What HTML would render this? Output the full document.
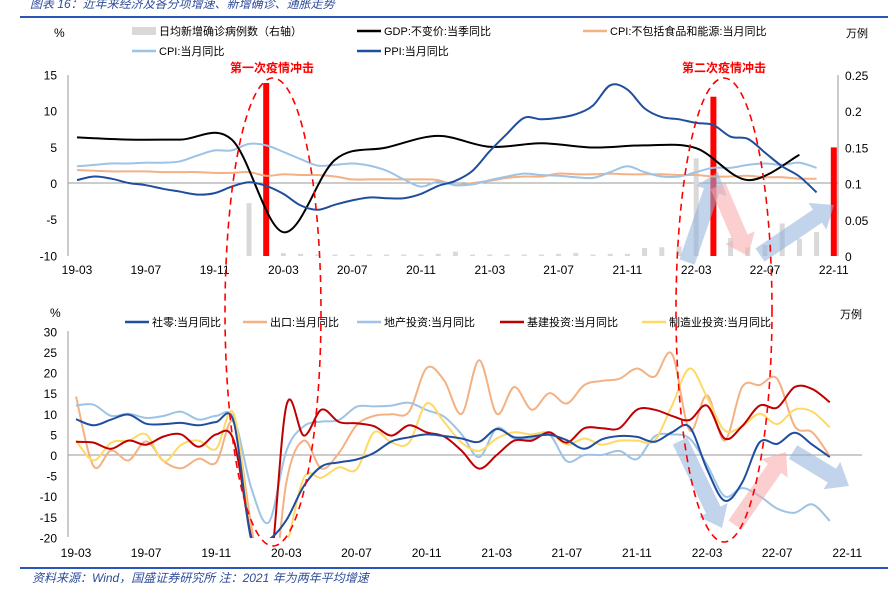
<!DOCTYPE html>
<html><head><meta charset="utf-8"><style>
body{margin:0;background:#fff;}
svg{display:block;font-family:"Liberation Sans","Noto Sans CJK SC",sans-serif;}
</style></head><body>
<svg id="chart" width="890" height="602" viewBox="0 0 890 602">
<defs>
<clipPath id="clipB"><rect x="68" y="329" width="800" height="209"/></clipPath>
</defs>
<text x="30" y="8" font-size="12" font-style="italic" fill="#2e4c9a">图表 16：近年来经济及各分项增速、新增确诊、通胀走势</text>
<line x1="20" y1="17" x2="888" y2="17" stroke="#2a56b8" stroke-width="2"/>
<g id="top"></g>
<g id="bot"></g>
<line x1="20" y1="568" x2="888" y2="568" stroke="#2a56b8" stroke-width="2"/>
<text x="32" y="582" font-size="12" font-style="italic" fill="#2e4c9a">资料来源：Wind，国盛证券研究所 注：2021 年为两年平均增速</text>
</svg>
<script>
// ---------- data ----------
const topTicks = ["19-03","19-07","19-11","20-03","20-07","20-11","21-03","21-07","21-11","22-03","22-07","22-11"];
const leftTicks = [15,10,5,0,-5,-10];
const rightTicks = [0.25,0.2,0.15,0.1,0.05,0];
const gdpMonths = [0,3,6,9,12,15,18,21,24,27,30,33,36,39,42];
const gdp = [6.3,6.0,6.0,6.0,-6.8,3.2,4.9,6.5,5.0,5.5,4.9,5.2,4.8,0.4,3.9];
const ppi = [0.4,0.9,0.6,0,-0.3,-0.8,-1.2,-1.6,-1.4,-0.5,0.1,-0.4,-1.5,-3.1,-3.7,-3.0,-2.4,-2.0,-2.1,-2.1,-1.5,-0.4,0.3,1.7,4.4,6.8,9.0,8.8,9.0,9.5,10.7,13.5,12.9,10.3,9.1,8.8,8.3,8.0,6.4,6.1,4.2,2.3,0.9,-1.3];
const cpi = [2.3,2.5,2.7,2.7,2.8,2.8,3.0,3.8,4.5,4.5,5.4,5.2,4.3,3.3,2.4,2.5,2.7,2.4,1.7,0.5,-0.5,0.2,-0.3,-0.2,0.4,0.9,1.3,1.1,1.0,0.8,0.7,1.5,2.3,1.5,0.9,0.9,1.5,2.1,2.1,2.5,2.7,2.5,2.8,2.1];
const coreCpi = [1.8,1.7,1.6,1.6,1.6,1.5,1.5,1.5,1.4,1.4,1.5,1.0,1.2,1.1,1.1,0.9,0.5,0.5,0.5,0.5,0.5,0.4,-0.3,0.0,0.3,0.7,0.9,0.9,1.3,1.2,1.2,1.3,1.2,1.2,1.2,1.1,1.1,0.9,0.9,1.0,0.8,0.8,0.6,0.6];
const cases = [0,0,0,0,0,0,0,0,0,0,0.073,0.239,0.004,0.003,0.002,0.002,0.002,0.002,0.002,0.002,0.002,0.003,0.006,0.002,0.002,0.002,0.002,0.002,0.003,0.004,0.002,0.003,0.003,0.011,0.012,0.013,0.135,0.22,0.025,0.012,0.015,0.045,0.024,0.033,0.15];
const highlightMonths = [11,37,44];

const botTicks = ["19-03","19-07","19-11","20-03","20-07","20-11","21-03","21-07","21-11","22-03","22-07","22-11"];
const botYTicks = [30,25,20,15,10,5,0,-5,-10,-15,-20];
const retail = [8.7,7.2,8.6,9.8,7.6,7.5,7.8,7.2,8.0,8.0,-20.5,-20.5,-15.8,-7.5,-2.8,-1.8,-1.1,0.5,3.3,4.3,5.0,4.6,4.0,3.2,6.3,4.3,4.5,4.9,3.6,1.5,3.8,4.6,4.4,3.2,5.5,6.8,-3.5,-11.1,-6.7,3.1,2.7,5.4,2.5,-0.5];
const exportsS = [14.2,-2.7,1.1,-1.3,3.3,-1.5,-3.2,-0.9,-1.8,7.9,-17.2,-40.6,-6.6,3.5,-3.3,0.5,7.2,9.5,9.9,10.5,21.1,18.1,10,23,10,16.5,11,15,12.5,17,18,18.5,21,19,24.5,6,14.5,3.5,16.5,17,18.5,7,5.5,-0.3];
const realEstate = [12,12.2,9.5,10,9,9.5,10.5,8.6,9.5,9,-8,-16.3,1.0,7.0,8.1,8.5,11.7,11.8,12,12.7,10.9,9.3,5,-0.5,6.5,4,4,5,-1.5,0,0,1,-1,4.5,5,4,-2.4,-10,-8,-10,-13,-14,-12,-16];
const infra = [3.2,3.0,1.5,3.5,2.5,4.5,5,2,5,3.5,-20,-30,12,4.7,11,8,7.7,7,4.7,7.2,5.5,4.5,1,-3.3,0,3.5,3.5,5.5,3,6.5,6.5,6.5,11,11,9.5,8.5,12,4,7,12,11.5,16.5,16,12.8];
const manuf = [3.5,-1.3,3,3.5,5,-1.5,2.5,3.5,1.5,10,-20,-31.5,-22,-5.5,-5.5,-3,-3.5,5.5,3,3,12.5,8,3,1,4,5.5,5,5.5,2.5,4,2.5,3.5,3.5,3.5,12,21,14,6,7,10,7.5,11,10.5,6.7];

// ---------- axis functions ----------
const xT = m => 77 + 17.2*m;
const yT = v => 183 - v*7.24;
const yR = v => 256 - v*724;
const xB = m => 76 + 17.53*m;
const yB = v => 455 - v*4.12;

const NS = "http://www.w3.org/2000/svg";
function mk(tag, attrs, parent){const e=document.createElementNS(NS,tag);for(const k in attrs)e.setAttribute(k,attrs[k]);parent.appendChild(e);return e;}
function spline(pts){
  let d = "M"+pts[0][0].toFixed(1)+","+pts[0][1].toFixed(1);
  for(let i=0;i<pts.length-1;i++){
    const p0=pts[Math.max(0,i-1)],p1=pts[i],p2=pts[i+1],p3=pts[Math.min(pts.length-1,i+2)];
    const t=1/6;
    const c1=[p1[0]+(p2[0]-p0[0])*t,p1[1]+(p2[1]-p0[1])*t];
    const c2=[p2[0]-(p3[0]-p1[0])*t,p2[1]-(p3[1]-p1[1])*t];
    d+=" C"+c1[0].toFixed(1)+","+c1[1].toFixed(1)+" "+c2[0].toFixed(1)+","+c2[1].toFixed(1)+" "+p2[0].toFixed(1)+","+p2[1].toFixed(1);
  }
  return d;
}
const T = document.getElementById("top");
const B = document.getElementById("bot");

// ---------- top chart ----------
let e;
e = mk("line",{x1:68,y1:75,x2:68,y2:256,stroke:"#999"},T);


e = mk("line",{x1:838,y1:75,x2:838,y2:256,stroke:"#999"},T);


e = mk("line",{x1:68,y1:yT(0),x2:838,y2:yT(0),stroke:"#999"},T);


leftTicks.forEach(v=>{
  e = mk("text",{x:57,y:yT(v)+5,"font-size":12,"text-anchor":"end",fill:"#000"},T); e.textContent=v;
  
  
});
rightTicks.forEach(v=>{
  e = mk("text",{x:845,y:yR(v)+5,"font-size":12,fill:"#000"},T); e.textContent=v;
  
  
});
topTicks.forEach((t,i)=>{
  e = mk("text",{x:xT(i*4),y:274,"font-size":12,"text-anchor":"middle",fill:"#000"},T); e.textContent=t;
  
  
});
cases.forEach((v,i)=>{
  const hi = highlightMonths.includes(i);
  const w = hi?6:5;
  e = mk("rect",{x:xT(i)-w/2,y:yR(v),width:w,height:yR(0)-yR(v),fill:hi?"#ff0000":"#d9d9d9"},T);
  
  
});
function topLine(arr,color,name,w,months){
  const pts = arr.map((v,i)=>[xT(months?months[i]:i),yT(v)]);
  const p = mk("path",{d:spline(pts),fill:"none",stroke:color,"stroke-width":w},T);
  
  
}
topLine(coreCpi,"#f4b183","core-cpi-line",2);
topLine(cpi,"#9dc3e6","cpi-line",2);
topLine(gdp,"#000000","gdp-line",2,gdpMonths);
topLine(ppi,"#1f4e9f","ppi-line",2);

// top legend & labels
const L = [
 ["rect",132,31,"#d9d9d9","日均新增确诊病例数（右轴）","legend-cases"],
 ["line",357,31,"#000","GDP:不变价:当季同比","legend-gdp"],
 ["line",583,31,"#f4b183","CPI:不包括食品和能源:当月同比","legend-core-cpi"],
 ["line",132,51,"#9dc3e6","CPI:当月同比","legend-cpi"],
 ["line",357,51,"#1f4e9f","PPI:当月同比","legend-ppi"]];
L.forEach(l=>{
  const g = mk("g",{},T);
  
  
  if(l[0]=="rect") mk("rect",{x:l[1],y:l[2]-4,width:24,height:8,fill:l[3]},g);
  else mk("line",{x1:l[1],y1:l[2],x2:l[1]+24,y2:l[2],stroke:l[3],"stroke-width":2.5},g);
  const t = mk("text",{x:l[1]+27,y:l[2]+4,"font-size":11,fill:"#000"},g); t.textContent=l[4];
});
e = mk("text",{x:54,y:37,"font-size":12},T); e.textContent="%";


e = mk("text",{x:846,y:37,"font-size":11},T); e.textContent="万例";


e = mk("text",{x:272,y:72,"font-size":12,"font-weight":"bold","text-anchor":"middle",fill:"#ff0000"},T); e.textContent="第一次疫情冲击";


e = mk("text",{x:724,y:72,"font-size":12,"font-weight":"bold","text-anchor":"middle",fill:"#ff0000"},T); e.textContent="第二次疫情冲击";



// ---------- bottom chart ----------
e = mk("line",{x1:68,y1:331,x2:68,y2:537,stroke:"#999"},B);


e = mk("line",{x1:68,y1:yB(0),x2:862,y2:yB(0),stroke:"#999"},B);


botYTicks.forEach(v=>{
  e = mk("text",{x:57,y:yB(v)+5,"font-size":12,"text-anchor":"end"},B); e.textContent=v;
  
  
});
botTicks.forEach((t,i)=>{
  e = mk("text",{x:xB(i*4),y:557,"font-size":12,"text-anchor":"middle"},B); e.textContent=t;
  
  
});
const BL = mk("g",{"clip-path":"url(#clipB)"},B);
function botLine(arr,color,name){
  const pts = arr.map((v,i)=>[xB(i),yB(v)]);
  const p = mk("path",{d:spline(pts),fill:"none",stroke:color,"stroke-width":2},BL);
  
  
}
botLine(exportsS,"#f4b183","exports-line");
botLine(realEstate,"#9dc3e6","real-estate-line");
botLine(manuf,"#ffd966","manufacturing-line");
botLine(infra,"#c00000","infrastructure-line");
botLine(retail,"#1f4e9f","retail-line");
const BLg = [
 [125,"#1f4e9f","社零:当月同比","legend-retail"],
 [243,"#f4b183","出口:当月同比","legend-exports"],
 [357,"#9dc3e6","地产投资:当月同比","legend-real-estate"],
 [500,"#c00000","基建投资:当月同比","legend-infrastructure"],
 [642,"#ffd966","制造业投资:当月同比","legend-manufacturing"]];
BLg.forEach(l=>{
  const g = mk("g",{},B);
  
  
  mk("line",{x1:l[0],y1:322,x2:l[0]+24,y2:322,stroke:l[1],"stroke-width":2.5},g);
  const t = mk("text",{x:l[0]+27,y:326,"font-size":11},g); t.textContent=l[2];
});
e = mk("text",{x:50,y:317,"font-size":12},B); e.textContent="%";


e = mk("text",{x:840,y:318,"font-size":11},B); e.textContent="万例";



// ---------- annotations: arrows and ellipses ----------
const S = document.getElementById("chart");
function arrow(x1,y1,x2,y2,color,name){
  const dx=x2-x1,dy=y2-y1,len=Math.hypot(dx,dy),ux=dx/len,uy=dy/len,nx=-uy,ny=ux;
  const w=8,hw=16,hl=20;
  const bx=x2-ux*hl,by=y2-uy*hl;
  const P=[[x1+nx*w,y1+ny*w],[bx+nx*w,by+ny*w],[bx+nx*hw,by+ny*hw],[x2,y2],[bx-nx*hw,by-ny*hw],[bx-nx*w,by-ny*w],[x1-nx*w,y1-ny*w]];
  const p = mk("polygon",{points:P.map(q=>q.map(v=>v.toFixed(1)).join(",")).join(" "),fill:color,opacity:0.55},S);
  
  
}
arrow(687,262,718,172,"#8fb0da","top-arrow-up");
arrow(718,186,748,256,"#f7a8a8","top-arrow-down");
arrow(760,255,834,205,"#8fb0da","top-arrow-right");
arrow(680,441,722,528,"#8fb0da","bottom-arrow-down");
arrow(735,525,786,452,"#f7a8a8","bottom-arrow-up");
arrow(793,452,849,486,"#8fb0da","bottom-arrow-right");
e = mk("ellipse",{cx:273,cy:312,rx:48,ry:234,fill:"none",stroke:"#ff0000","stroke-width":1.6,"stroke-dasharray":"7,5"},S);


e = mk("ellipse",{cx:724,cy:310,rx:48,ry:232,fill:"none",stroke:"#ff0000","stroke-width":1.6,"stroke-dasharray":"7,5"},S);


</script>
</body></html>
